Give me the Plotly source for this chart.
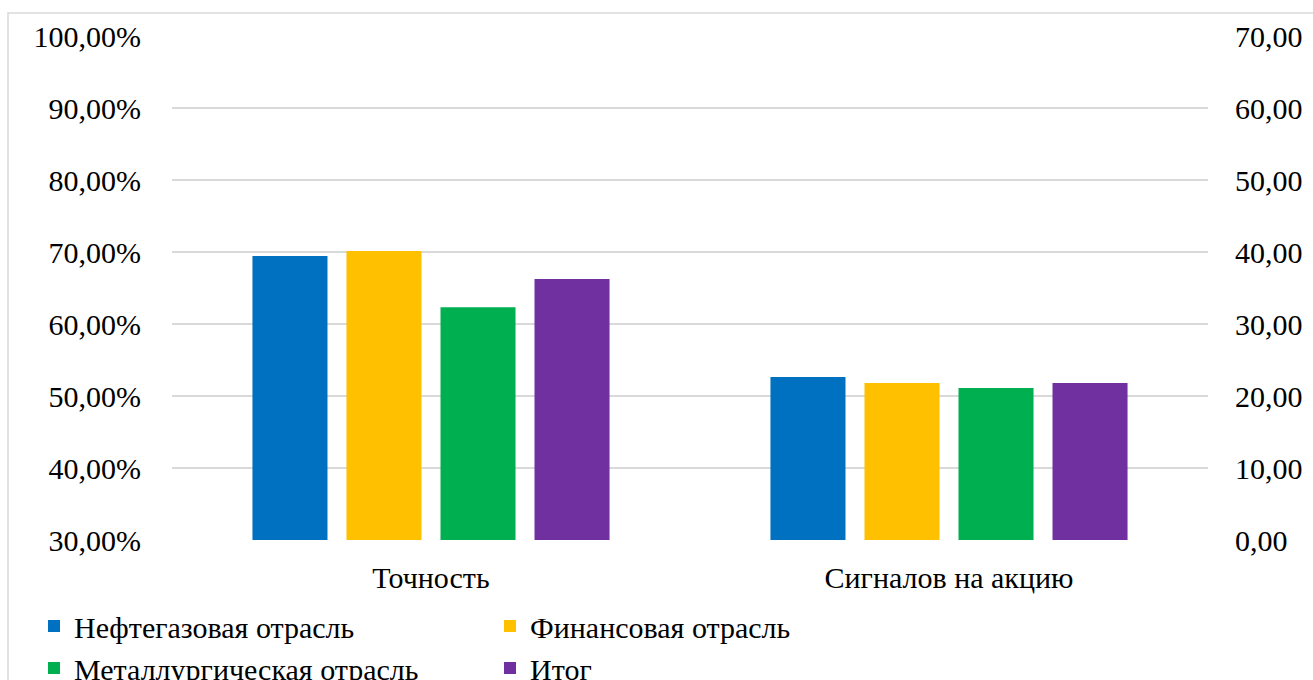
import plotly.graph_objects as go

# Categories and series
categories = ["Точность", "Сигналов на акцию"]
series_names = ["Нефтегазовая отрасль", "Финансовая отрасль", "Металлургическая отрасль", "Итог"]
colors = ["#0070C0", "#FFC000", "#00B050", "#7030A0"]

# Accuracy (left axis, share) per series
accuracy = [0.6944, 0.7014, 0.6232, 0.6625]
# Signals per share (right axis) per series
signals = [22.64, 21.80, 21.10, 21.80]

W, H = 1313, 680
L, R, T, B = 172, 105, 36, 140
plot_w = W - L - R
plot_h = H - T - B

serif = "'Times New Roman', 'Liberation Serif', 'DejaVu Serif', serif"

fig = go.Figure()
for name, color, acc in zip(series_names, colors, accuracy):
    fig.add_trace(go.Bar(
        x=categories, y=[acc, None], name=name, marker_color=color,
        marker_line_width=0, legendgroup=name, yaxis="y",
    ))
for name, color, sig in zip(series_names, colors, signals):
    fig.add_trace(go.Bar(
        x=categories, y=[None, sig], name=name, marker_color=color,
        marker_line_width=0, legendgroup=name, showlegend=False, yaxis="y2",
    ))

# Chart border
fig.add_shape(
    type="rect", xref="paper", yref="paper",
    x0=(8 - L) / plot_w, x1=(W + 20 - L) / plot_w,
    y0=-(H + 20 - T - plot_h) / plot_h, y1=1 + (T - 13) / plot_h,
    line=dict(color="#d9d9d9", width=1.5), fillcolor="rgba(0,0,0,0)",
    layer="below",
)

tick_font = dict(family=serif, size=30, color="black")

fig.update_layout(
    width=W, height=H,
    margin=dict(l=L, r=R, t=T, b=B, autoexpand=False),
    paper_bgcolor="white", plot_bgcolor="white",
    separators=", ",
    barmode="group", bargap=0.274, bargroupgap=0.202,
    font=dict(family=serif, size=30, color="black"),
    xaxis=dict(
        showgrid=False, showline=False, zeroline=False, ticks="",
        ticklabelstandoff=17, tickfont=tick_font,
    ),
    yaxis=dict(
        range=[0.30, 1.00], dtick=0.10, tick0=0.30, tickformat=".2%",
        showgrid=True, gridcolor="#d9d9d9", gridwidth=1.5,
        zeroline=False, showline=False, ticks="",
        ticklabelstandoff=30, tickfont=tick_font,
    ),
    yaxis2=dict(
        range=[0, 70], dtick=10, tickformat=".2f", overlaying="y", side="right",
        showgrid=False, zeroline=False, showline=False, ticks="",
        ticklabelstandoff=26, tickfont=tick_font,
    ),
    legend=dict(
        orientation="h", x=(34 - L) / plot_w, xanchor="left",
        y=-(600 - T - plot_h) / plot_h, yanchor="top",
        entrywidth=411, entrywidthmode="pixels",
        font=dict(family=serif, size=30, color="black"),
        itemwidth=30, tracegroupgap=0,
        bgcolor="rgba(0,0,0,0)",
    ),
    showlegend=True,
)

fig.write_html("out.html")
